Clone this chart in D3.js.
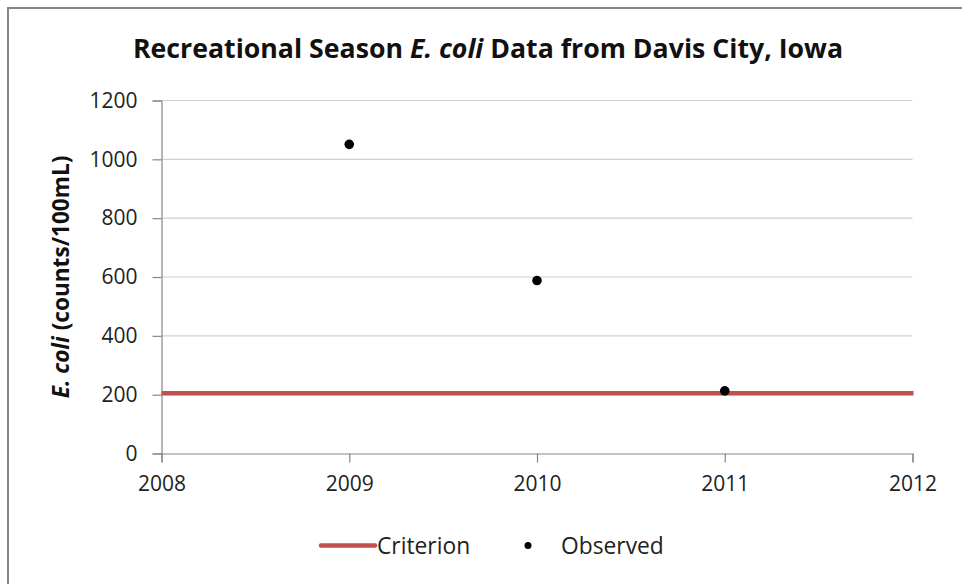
<!DOCTYPE html>
<html>
<head>
<meta charset="utf-8">
<script src="https://cdn.jsdelivr.net/npm/d3@7"></script>
<style>
  body { margin: 0; background: #fff; }
  svg { display: block; font-family: "Open Sans", sans-serif; }
</style>
</head>
<body>
<svg id="chart" width="962" height="584"></svg>
<script>
// data
const years = [2009, 2010, 2011];
const observed = [1051, 588, 213];
const criterion = 205;
const xTicks = [2008, 2009, 2010, 2011, 2012];
const yTicks = [0, 200, 400, 600, 800, 1000, 1200];

const font = '"Open Sans", sans-serif';
const svg = d3.select("#chart");

// chart frame (only top and left edges fall inside the picture)
svg.append("rect")
    .attr("x", 8).attr("y", 8)
    .attr("width", 1000).attr("height", 640)
    .attr("fill", "#fff")
    .attr("stroke", "#868686")
    .attr("stroke-width", 2);

const x = d3.scaleLinear().domain([2008, 2012]).range([161.5, 912.5]);
const y = d3.scaleLinear().domain([0, 1200]).range([453.5, 100.5]);

// gridlines
svg.append("g")
    .selectAll("line")
    .data(yTicks.filter(d => d > 0))
    .enter()
    .append("line")
    .attr("x1", x(2008)).attr("x2", x(2012))
    .attr("y1", d => y(d)).attr("y2", d => y(d))
    .attr("stroke", "#d0d0d0")
    .attr("stroke-width", 1.2);

// y axis
const yAxis = svg.append("g")
    .attr("transform", `translate(${x(2008)},0)`)
    .call(d3.axisLeft(y).tickValues(yTicks).tickSize(9).tickPadding(15).tickFormat(d3.format("d")));
yAxis.attr("font-family", font).attr("font-size", 21);
yAxis.select(".domain").attr("stroke", "#868686").attr("stroke-width", 1.2);
yAxis.selectAll(".tick line").attr("stroke", "#868686").attr("stroke-width", 1.2);
yAxis.selectAll("text").attr("fill", "#222");

// x axis
const xAxis = svg.append("g")
    .attr("transform", `translate(0,${y(0)})`)
    .call(d3.axisBottom(x).tickValues(xTicks).tickSize(9).tickPadding(14).tickFormat(d3.format("d")));
xAxis.attr("font-family", font).attr("font-size", 21);
xAxis.select(".domain").attr("stroke", "#868686").attr("stroke-width", 1.2);
xAxis.selectAll(".tick line").attr("stroke", "#868686").attr("stroke-width", 1.2);
xAxis.selectAll("text").attr("fill", "#222");

// criterion line
svg.append("line")
    .attr("x1", x(2008)).attr("x2", x(2012) + 1)
    .attr("y1", y(criterion)).attr("y2", y(criterion))
    .attr("stroke", "#C0504D")
    .attr("stroke-width", 4.5);

// observed points
svg.append("g")
    .selectAll("circle")
    .data(years.map((yr, i) => ({ yr, v: observed[i] })))
    .enter()
    .append("circle")
    .attr("cx", d => x(d.yr))
    .attr("cy", d => y(d.v))
    .attr("r", 4.8)
    .attr("fill", "#000");

// title
const title = svg.append("text")
    .attr("x", 488).attr("y", 58)
    .attr("text-anchor", "middle")
    .attr("font-size", 26.7)
    .attr("font-weight", "bold")
    .attr("fill", "#111");
title.append("tspan").text("Recreational Season ");
title.append("tspan").attr("font-style", "italic").text("E. coli");
title.append("tspan").text(" Data from Davis City, Iowa");

// y axis title
const yTitle = svg.append("text")
    .attr("transform", `translate(69,277) rotate(-90)`)
    .attr("text-anchor", "middle")
    .attr("font-size", 22.6)
    .attr("font-weight", "bold")
    .attr("fill", "#111");
yTitle.append("tspan").attr("font-style", "italic").text("E. coli");
yTitle.append("tspan").text(" (counts/100mL)");

// legend
const legend = svg.append("g").attr("font-size", 22.8);
legend.append("line")
    .attr("x1", 321).attr("x2", 375)
    .attr("y1", 545.5).attr("y2", 545.5)
    .attr("stroke", "#C0504D")
    .attr("stroke-width", 4.5)
    .attr("stroke-linecap", "round");
legend.append("text")
    .attr("x", 377).attr("y", 553.5)
    .attr("fill", "#222")
    .text("Criterion");
legend.append("circle")
    .attr("cx", 528).attr("cy", 545.5)
    .attr("r", 3.5)
    .attr("fill", "#000");
legend.append("text")
    .attr("x", 561).attr("y", 553.5)
    .attr("fill", "#222")
    .text("Observed");
</script>
</body>
</html>
